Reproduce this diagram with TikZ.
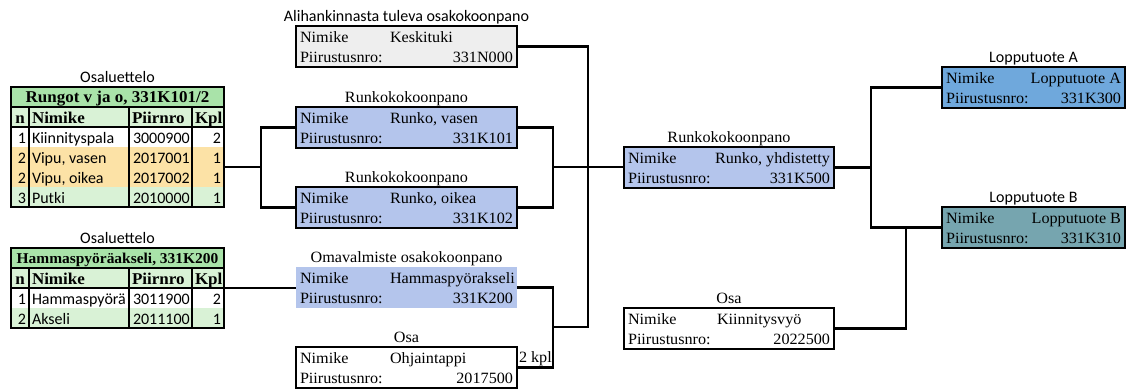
\documentclass[tikz,border=0pt]{standalone}
\usepackage{fontspec}
\setmainfont{Liberation Serif}[FakeStretch=1.03]
\newfontfamily\sansfnt{Carlito}
\usetikzlibrary{calc}

\definecolor{runko}{HTML}{B4C5EC}
\definecolor{grayfill}{HTML}{EEEEEE}
\definecolor{lopA}{HTML}{6FA8DC}
\definecolor{lopB}{HTML}{76A5AF}
\definecolor{hdrgreen}{HTML}{A9E3A9}
\definecolor{lightgreen}{HTML}{D9F2D6}
\definecolor{orangerow}{HTML}{FCE2A6}

\newcommand\fs{\fontsize{15.7}{18}\selectfont}
\newcommand\fss{\fontsize{16}{18}\selectfont}
\newcommand\fsb{\fontsize{16.5}{18}\selectfont}

% two-row part card: name, offset of value column, value, drawing number
\newcommand\partrows[4]{%
  \node[txt,anchor=base west] (#1-n) at ([shift={(4,16)}]#1.north west) {Nimike};
  \node[txt,anchor=base west] (#1-v) at ([shift={(#2,16)}]#1.north west) {#3};
  \node[txt,anchor=base west] (#1-p) at ([shift={(4,36)}]#1.north west) {Piirustusnro:};
  \node[txt,anchor=base east] (#1-d) at ([shift={(-4,36)}]#1.north east) {#4};
}
% same card with the value set flush right
\newcommand\partrowsR[3]{%
  \node[txt,anchor=base west] (#1-n) at ([shift={(4,16)}]#1.north west) {Nimike};
  \node[txt,anchor=base east] (#1-v) at ([shift={(-4,16)}]#1.north east) {#2};
  \node[txt,anchor=base west] (#1-p) at ([shift={(4,36)}]#1.north west) {Piirustusnro:};
  \node[txt,anchor=base east] (#1-d) at ([shift={(-4,36)}]#1.north east) {#3};
}

\begin{document}
\begin{tikzpicture}[x=1pt,y=-1pt,
  txt/.style={inner sep=0pt,outer sep=0pt,font=\fs},
  stxt/.style={inner sep=0pt,outer sep=0pt,font=\fss\sansfnt},
  btxt/.style={inner sep=0pt,outer sep=0pt,font=\fsb\bfseries},
  card/.style={draw=black,line width=2.2pt,anchor=north west,inner sep=0pt,outer sep=0pt,minimum height=41pt},
  plaincard/.style={anchor=north west,inner sep=0pt,outer sep=0pt,minimum height=41pt},
  tbl/.style={draw=black,line width=2.2pt,anchor=north west,inner sep=0pt,outer sep=0pt,minimum width=213pt},
  grid/.style={line width=2pt},
  conn/.style={draw=black,line width=2.2pt}]

\useasboundingbox (0,0) rectangle (1131,389);

% ---------- parts list: Rungot v ja o ----------
\fill[hdrgreen] (11,87) rectangle (224,107);
\fill[lightgreen] (11,107) rectangle (224,127);
\fill[orangerow] (11,147) rectangle (224,187);
\fill[lightgreen] (11,187) rectangle (224,207);
\draw[grid] (11,107) -- (224,107) (11,127) -- (224,127);
\draw[grid] (29,107) -- (29,207) (129,107) -- (129,207) (192,107) -- (192,207);
\node[tbl,minimum height=120pt] (t1) at (11,87) {};
\node[stxt,anchor=base] (t1-cap) at ([shift={(0,-5)}]t1.north) {Osaluettelo};
\node[btxt,anchor=base] (t1-title) at (117.5,102) {Rungot v ja o, 331K101/2};
\node[btxt,anchor=base] (t1-hn) at (20,123) {n};
\node[btxt,anchor=base west] (t1-hm) at (32,123) {Nimike};
\node[btxt,anchor=base west] (t1-hp) at (132,123) {Piirnro};
\node[btxt,anchor=base west] (t1-hk) at (195,123) {Kpl};
\foreach \n/\name/\nr/\k [count=\i] in {1/Kiinnityspala/3000900/2, 2/{Vipu, vasen}/2017001/1, 2/{Vipu, oikea}/2017002/1, 3/Putki/2010000/1}{
  \node[stxt,anchor=base east] (t1-n\i) at (26,123+20*\i) {\n};
  \node[stxt,anchor=base west] (t1-m\i) at (32,123+20*\i) {\name};
  \node[stxt,anchor=base west] (t1-p\i) at (133,123+20*\i) {\nr};
  \node[stxt,anchor=base east] (t1-k\i) at (221,123+20*\i) {\k};
}

% ---------- parts list: Hammaspyöräakseli ----------
\fill[hdrgreen] (11,248) rectangle (224,268);
\fill[lightgreen] (11,268) rectangle (224,288);
\fill[lightgreen] (11,308) rectangle (224,328);
\draw[grid] (11,268) -- (224,268) (11,288) -- (224,288);
\draw[grid] (29,268) -- (29,328) (129,268) -- (129,328) (192,268) -- (192,328);
\node[tbl,minimum height=80pt] (t2) at (11,248) {};
\node[stxt,anchor=base] (t2-cap) at ([shift={(0,-5)}]t2.north) {Osaluettelo};
\node[btxt,anchor=base,font=\fontsize{15}{18}\selectfont\bfseries] (t2-title) at (117.5,263) {Hammaspyöräakseli, 331K200};
\node[btxt,anchor=base] (t2-hn) at (20,284) {n};
\node[btxt,anchor=base west] (t2-hm) at (32,284) {Nimike};
\node[btxt,anchor=base west] (t2-hp) at (132,284) {Piirnro};
\node[btxt,anchor=base west] (t2-hk) at (195,284) {Kpl};
\foreach \n/\name/\nr/\k [count=\i] in {1/Hammaspyörä/3011900/2, 2/Akseli/2011100/1}{
  \node[stxt,anchor=base east] (t2-n\i) at (26,284+20*\i) {\n};
  \node[stxt,anchor=base west] (t2-m\i) at (32,284+20*\i) {\name};
  \node[stxt,anchor=base west] (t2-p\i) at (133,284+20*\i) {\nr};
  \node[stxt,anchor=base east] (t2-k\i) at (221,284+20*\i) {\k};
}

% ---------- sub-assemblies and parts ----------
\node[card,fill=grayfill,minimum width=221pt] (kesk) at (296,26) {};
\node[stxt,anchor=base] at ([shift={(0,-5)}]kesk.north) {Alihankinnasta tuleva osakokoonpano};
\partrows{kesk}{94}{Keskituki}{331N000}

\node[card,fill=runko,minimum width=221pt] (vasen) at (296,107) {};
\node[txt,anchor=base] at ([shift={(0,-5)}]vasen.north) {Runkokokoonpano};
\partrows{vasen}{94}{Runko, vasen}{331K101}

\node[card,fill=runko,minimum width=221pt] (oikea) at (296,187) {};
\node[txt,anchor=base] at ([shift={(0,-5)}]oikea.north) {Runkokokoonpano};
\partrows{oikea}{94}{Runko, oikea}{331K102}

\node[plaincard,fill=runko,minimum width=221pt] (hamm) at (296,267) {};
\node[txt,anchor=base] at ([shift={(0,-5)}]hamm.north) {Omavalmiste osakokoonpano};
\partrows{hamm}{94}{Hammaspyörakseli}{331K200}

\node[card,fill=white,minimum width=221pt] (ohj) at (296,347) {};
\node[txt,anchor=base] at ([shift={(0,-5)}]ohj.north) {Osa};
\partrows{ohj}{94}{Ohjaintappi}{2017500}

\node[card,fill=runko,minimum width=210pt] (yhd) at (624,147) {};
\node[txt,anchor=base] at ([shift={(0,-5)}]yhd.north) {Runkokokoonpano};
\partrowsR{yhd}{Runko, yhdistetty}{331K500}

\node[card,fill=white,minimum width=210pt] (kiin) at (624,308) {};
\node[txt,anchor=base] at ([shift={(0,-5)}]kiin.north) {Osa};
\partrows{kiin}{93}{Kiinnitysvyö}{2022500}

\node[card,fill=lopA,minimum width=183pt] (lopA) at (942,67) {};
\node[stxt,anchor=base] at ([shift={(0,-5)}]lopA.north) {Lopputuote A};
\partrowsR{lopA}{Lopputuote A}{331K300}

\node[card,fill=lopB,minimum width=183pt] (lopB) at (942,207) {};
\node[stxt,anchor=base] at ([shift={(0,-5)}]lopB.north) {Lopputuote B};
\partrowsR{lopB}{Lopputuote B}{331K310}

% ---------- connectors ----------
\coordinate (t1out) at ([shift={(0,20)}]t1.east);
\coordinate (j1) at (261,167);
\coordinate (j2) at (553,167);
\coordinate (j3) at (553,327);
\coordinate (j4) at (588,327);
\coordinate (j5) at (871,167);
\coordinate (j6) at (906,227);

\draw[conn] (t1out) -- (j1);
\draw[conn] (vasen.west) -| (j1) |- (oikea.west);
\draw[conn] (t2.east) -- (t2.east -| hamm.west);
\draw[conn] (vasen.east) -| (j2) |- (oikea.east);
\draw[conn] (j2) -- (j2 -| yhd.west);
\draw[conn] (hamm.east) -| (j3) |- (ohj.east);
\node[txt,anchor=base west] (kpl) at ([shift={(2,-5)}]ohj.east) {2 kpl};
\draw[conn] (kesk.east) -| (j4) -- (j3);
\draw[conn] (yhd.east) -- (yhd.east -| j5);
\draw[conn] (lopA.west) -| (j5) |- (lopB.west);
\draw[conn] (kiin.east) -| (j6);
\end{tikzpicture}
\end{document}
